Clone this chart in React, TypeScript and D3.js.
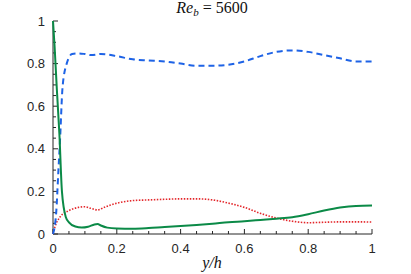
import React, { useRef, useEffect } from "react";
import * as d3 from "d3";

// profiles across the channel, y/h from 0 to 1
const greenX = [0, 0.005, 0.012, 0.02, 0.028, 0.04, 0.05, 0.07, 0.09, 0.11, 0.13, 0.14, 0.15, 0.17, 0.2, 0.25, 0.3, 0.35, 0.4, 0.45, 0.5, 0.55, 0.6, 0.65, 0.7, 0.75, 0.8, 0.85, 0.9, 0.95, 1];
const greenY = [1, 0.88, 0.68, 0.47, 0.2, 0.08, 0.055, 0.035, 0.03, 0.034, 0.045, 0.047, 0.04, 0.03, 0.026, 0.025, 0.028, 0.033, 0.037, 0.042, 0.048, 0.055, 0.06, 0.066, 0.072, 0.079, 0.093, 0.11, 0.124, 0.132, 0.134];

const blueX = [0, 0.01, 0.017, 0.022, 0.03, 0.043, 0.06, 0.08, 0.1, 0.12, 0.15, 0.2, 0.25, 0.3, 0.35, 0.4, 0.45, 0.5, 0.55, 0.6, 0.65, 0.7, 0.75, 0.8, 0.85, 0.9, 0.95, 1];
const blueY = [0, 0.1, 0.3, 0.44, 0.69, 0.8, 0.845, 0.848, 0.845, 0.84, 0.845, 0.835, 0.82, 0.815, 0.81, 0.8, 0.79, 0.79, 0.795, 0.81, 0.835, 0.855, 0.862, 0.855, 0.84, 0.825, 0.81, 0.81];

const redX = [0, 0.006, 0.022, 0.05, 0.08, 0.1, 0.12, 0.14, 0.16, 0.18, 0.21, 0.25, 0.3, 0.35, 0.4, 0.45, 0.5, 0.55, 0.6, 0.65, 0.7, 0.75, 0.8, 0.85, 0.9, 0.95, 1];
const redY = [0, 0.033, 0.08, 0.11, 0.125, 0.128, 0.12, 0.113, 0.125, 0.136, 0.148, 0.157, 0.16, 0.163, 0.165, 0.165, 0.16, 0.145, 0.125, 0.097, 0.075, 0.06, 0.053, 0.055, 0.057, 0.057, 0.056];

const xTicks = [0, 0.2, 0.4, 0.6, 0.8, 1];
const yTicks = [0, 0.2, 0.4, 0.6, 0.8, 1];

export default function App() {
  const ref = useRef<SVGSVGElement>(null);

  useEffect(() => {
    const width = 411;
    const height = 274;
    const svg = d3.select(ref.current);
    svg.selectAll("*").remove();

    const x = d3.scaleLinear().domain([0, 1]).range([53, 372]);
    const y = d3.scaleLinear().domain([0, 1]).range([234, 21]);
    const axisColor = "#262626";
    const font = "'Liberation Sans', Arial, sans-serif";
    const serif = "'Liberation Serif', 'Times New Roman', serif";

    const minor = d3.range(0, 1.0001, 0.05);

    // x axis
    const gx = svg.append("g").attr("transform", `translate(0,${y(0)})`);
    gx.append("line").attr("x1", x(0)).attr("x2", x(1)).attr("stroke", axisColor);
    gx.selectAll("line.t")
      .data(minor)
      .join("line")
      .attr("class", "t")
      .attr("x1", (d) => x(d))
      .attr("x2", (d) => x(d))
      .attr("y1", 0)
      .attr("y2", (d) => (xTicks.some((t) => Math.abs(t - d) < 1e-6) ? -5 : -3))
      .attr("stroke", axisColor);
    gx.selectAll("text")
      .data(xTicks)
      .join("text")
      .attr("x", (d) => x(d))
      .attr("y", 19)
      .attr("text-anchor", "middle")
      .attr("font-family", font)
      .attr("font-size", 13)
      .attr("fill", axisColor)
      .text((d) => d3.format("~g")(d));

    // y axis
    const gy = svg.append("g").attr("transform", `translate(${x(0)},0)`);
    gy.append("line").attr("y1", y(0)).attr("y2", y(1)).attr("stroke", axisColor);
    gy.selectAll("line.t")
      .data(minor)
      .join("line")
      .attr("class", "t")
      .attr("y1", (d) => y(d))
      .attr("y2", (d) => y(d))
      .attr("x1", 0)
      .attr("x2", (d) => (yTicks.some((t) => Math.abs(t - d) < 1e-6) ? 5 : 3))
      .attr("stroke", axisColor);
    gy.selectAll("text")
      .data(yTicks)
      .join("text")
      .attr("x", -8)
      .attr("y", (d) => y(d))
      .attr("dy", "0.35em")
      .attr("text-anchor", "end")
      .attr("font-family", font)
      .attr("font-size", 13)
      .attr("fill", axisColor)
      .text((d) => d3.format("~g")(d));

    const line = d3
      .line<[number, number]>()
      .x((d) => x(d[0]))
      .y((d) => y(d[1]))
      .curve(d3.curveMonotoneX);

    const series = [
      { xs: redX, ys: redY, color: "#e3262a", width: 1.6, dash: "1.5,1.5" },
      { xs: blueX, ys: blueY, color: "#1e63e6", width: 2, dash: "6,4" },
      { xs: greenX, ys: greenY, color: "#0b8a47", width: 2, dash: null },
    ];
    series.forEach((s) => {
      svg
        .append("path")
        .datum(s.xs.map((v, i) => [v, s.ys[i]] as [number, number]))
        .attr("d", line)
        .attr("fill", "none")
        .attr("stroke", s.color)
        .attr("stroke-width", s.width)
        .attr("stroke-dasharray", s.dash);
    });

    // title
    const title = svg
      .append("text")
      .attr("x", 212)
      .attr("y", 13)
      .attr("text-anchor", "middle")
      .attr("font-family", serif)
      .attr("font-size", 16)
      .attr("fill", "#111");
    title.append("tspan").attr("font-style", "italic").text("Re");
    title.append("tspan").attr("font-style", "italic").attr("font-size", 11).attr("dy", 3).text("b");
    title.append("tspan").attr("dy", -3).text(" = 5600");

    svg
      .append("text")
      .attr("x", 212)
      .attr("y", 268)
      .attr("text-anchor", "middle")
      .attr("font-family", serif)
      .attr("font-style", "italic")
      .attr("font-size", 16)
      .attr("fill", "#111")
      .text("y/h");

    svg.attr("width", width).attr("height", height);
  }, []);

  return (
    <svg
      ref={ref}
      width={411}
      height={274}
      style={{ position: "absolute", left: 0, top: 0, background: "#fff" }}
    />
  );
}
